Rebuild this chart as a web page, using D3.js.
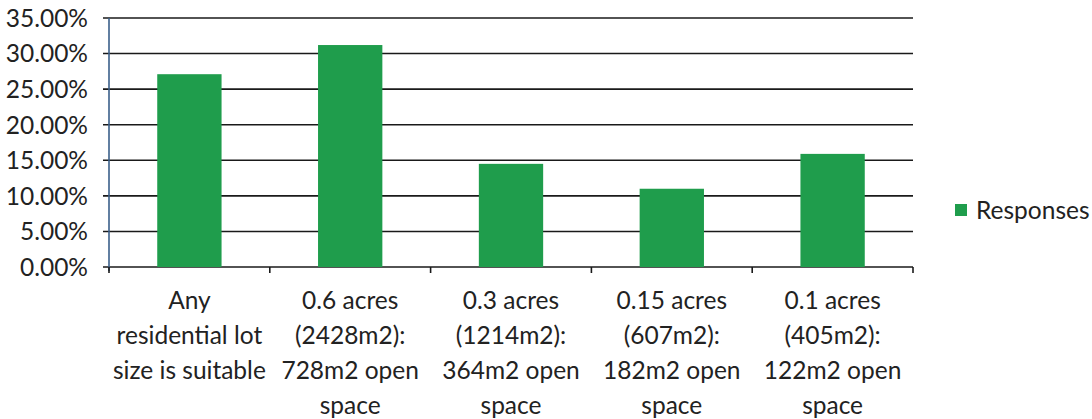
<!DOCTYPE html>
<html>
<head>
<meta charset="utf-8">
<script src="https://cdn.jsdelivr.net/npm/d3@7"></script>
<style>
  body { margin: 0; background: #fff; }
  text { font-family: Lato, "Open Sans", sans-serif; fill: #222; }
</style>
</head>
<body>
<div id="chart"></div>
<script>
var width = 1092,
    height = 419;

// categories (x axis, one array of lines per bar)
var categories = [
    ["Any", "residential lot", "size is suitable"],
    ["0.6 acres", "(2428m2):", "728m2 open", "space"],
    ["0.3 acres", "(1214m2):", "364m2 open", "space"],
    ["0.15 acres", "(607m2):", "182m2 open", "space"],
    ["0.1 acres", "(405m2):", "122m2 open", "space"]
];
var responses = [0.271, 0.312, 0.145, 0.110, 0.159];
var yTicks = [0, 0.05, 0.10, 0.15, 0.20, 0.25, 0.30, 0.35];
var seriesName = "Responses";

var margin = {top: 18, right: 179, bottom: 152, left: 109};

var svg = d3.select("#chart")
    .append("svg")
    .attr("width", width)
    .attr("height", height);

var x = d3.scaleBand()
    .domain(d3.range(categories.length))
    .range([margin.left, width - margin.right])
    .paddingInner(0.6)
    .paddingOuter(0.3);

var y = d3.scaleLinear()
    .domain([0, 0.35])
    .range([height - margin.bottom, margin.top]);

var green = "#1f9d4c";

// gridlines
svg.append("g")
    .selectAll("line")
    .data(yTicks)
    .enter()
    .append("line")
    .attr("x1", margin.left - 6)
    .attr("x2", width - margin.right)
    .attr("y1", function (d) { return y(d); })
    .attr("y2", function (d) { return y(d); })
    .attr("stroke", "#1a1a1a")
    .attr("stroke-width", 1.6);

// y labels
svg.append("g")
    .selectAll("text")
    .data(yTicks)
    .enter()
    .append("text")
    .attr("x", 88)
    .attr("y", function (d) { return y(d); })
    .attr("dy", "0.36em")
    .attr("text-anchor", "end")
    .style("font-size", "24.5px")
    .text(function (d) { return (d * 100).toFixed(2) + "%"; });

// bars
svg.append("g")
    .selectAll("rect")
    .data(responses)
    .enter()
    .append("rect")
    .attr("x", function (d, i) { return x(i); })
    .attr("y", function (d) { return y(d); })
    .attr("width", x.bandwidth())
    .attr("height", function (d) { return y(0) - y(d); })
    .attr("fill", green);

// y axis line
svg.append("line")
    .attr("x1", margin.left).attr("x2", margin.left)
    .attr("y1", y(0.35)).attr("y2", y(0) + 4)
    .attr("stroke", "#3a5f8a")
    .attr("stroke-width", 1.6);

// x category boundary ticks
var step = (width - margin.right - margin.left) / categories.length;
svg.append("g")
    .selectAll("line")
    .data(d3.range(categories.length + 1))
    .enter()
    .append("line")
    .attr("x1", function (i) { return margin.left + i * step; })
    .attr("x2", function (i) { return margin.left + i * step; })
    .attr("y1", y(0))
    .attr("y2", y(0) + 6)
    .attr("stroke", "#1a1a1a")
    .attr("stroke-width", 1.6);

// category labels
var lab = svg.append("g")
    .selectAll("text")
    .data(categories)
    .enter()
    .append("text")
    .attr("text-anchor", "middle")
    .style("font-size", "24.5px");

lab.selectAll("tspan")
    .data(function (d, i) { return d.map(function (s) { return {s: s, i: i}; }); })
    .enter()
    .append("tspan")
    .attr("x", function (d) { return x(d.i) + x.bandwidth() / 2; })
    .attr("y", function (d, j) { return 309 + j * 35; })
    .text(function (d) { return d.s; });

// legend
var leg = svg.append("g").attr("transform", "translate(955,204)");
leg.append("rect")
    .attr("width", 12).attr("height", 12)
    .attr("fill", green);
leg.append("text")
    .attr("x", 21).attr("y", 6)
    .attr("dy", "0.36em")
    .style("font-size", "24.5px")
    .text(seriesName);
</script>
</body>
</html>
